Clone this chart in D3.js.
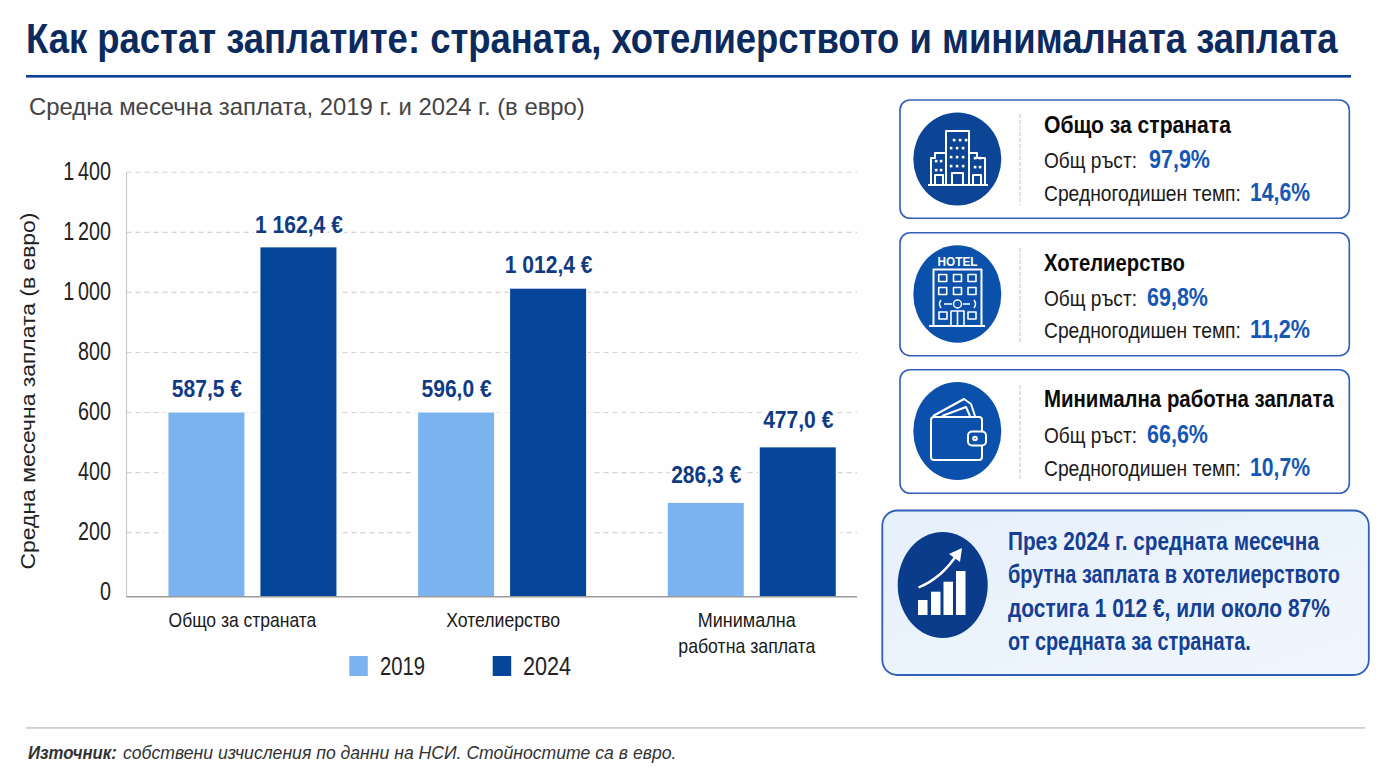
<!DOCTYPE html>
<html lang="bg">
<head>
<meta charset="utf-8">
<script src="https://cdn.jsdelivr.net/npm/d3@7"></script>
<style>
html,body{margin:0;padding:0;background:#fefefe;}
svg{display:block;}
text{font-family:"Liberation Sans",Arial,sans-serif;}
</style>
</head>
<body>
<svg id="c" width="1393" height="784"></svg>
<script>
const titleText = "Как растат заплатите: страната, хотелиерството и минималната заплата";
const subtitleText = "Средна месечна заплата, 2019 г. и 2024 г. (в евро)";
const yAxisTitle = "Средна месечна заплата (в евро)";
const categories = ["Общо за страната", "Хотелиерство", "Минимална работна заплата"];
const categoryLines = [["Общо за страната"], ["Хотелиерство"], ["Минимална", "работна заплата"]];
const years = ["2019", "2024"];
// Bar heights; the printed labels below differ slightly from them.
const barHeights2019 = [600, 600, 299];
const barHeights2024 = [1150, 1012.4, 484];
const printed2019 = [587.5, 596.0, 286.3];
const printed2024 = [1162.4, 1012.4, 477.0];
const yTicks = [0, 200, 400, 600, 800, 1000, 1200, 1400];
const cardTitles = ["Общо за страната", "Хотелиерство", "Минимална работна заплата"];
const totalGrowth = ["97,9%", "69,8%", "66,6%"];
const annualRate = ["14,6%", "11,2%", "10,7%"];
const calloutLines = ["През 2024 г. средната месечна", "брутна заплата в хотелиерството", "достига 1 012 €, или около 87%", "от средната за страната."];
const sourceBold = "Източник:";
const sourceText = "собствени изчисления по данни на НСИ. Стойностите са в евро.";

const colors = {"2019":"#7ab3f0","2024":"#04459a"};
const navy = "#0f3a85", valueBlue = "#1457b5";
const svg = d3.select("#c");
const fmtVal = v => d3.format(".1f")(v).replace(".",",").replace(/^(\d)(\d{3})/,"$1 $2") + " €";

// Draws a text and squeezes it horizontally (the reference face is condensed)
function T(x,y,s,o={}){
  const t = (o.parent||svg).append("text").text(s)
    .attr("font-size",o.size||20).attr("fill",o.fill||"#111");
  if(o.bold) t.attr("font-weight","700");
  if(o.italic) t.attr("font-style","italic");
  if(o.anchor) t.attr("text-anchor",o.anchor);
  const sx = o.w ? o.w/t.node().getComputedTextLength() : (o.sx||1);
  t.attr("transform",`translate(${x},${y})${o.rotate?` rotate(${o.rotate})`:""} scale(${sx},1)`);
  return t;
}

// Header
T(26,53,titleText,{size:42,bold:true,fill:"#0b2a5e",w:1312});
svg.append("rect").attr("x",26).attr("y",75).attr("width",1325).attr("height",2.6).attr("fill","#0d3f9a");
T(29,115,subtitleText,{size:24,fill:"#444",w:556});

// Chart
const x0 = d3.scaleBand().domain(categories).range([127.6,876.6]);
const x1 = d3.scaleBand().domain(years).range([-84,84]).paddingInner(16/92);
const y = d3.scaleLinear().domain([0,1400]).range([592.7,172.3]);
const plotRight = 857, plotLeft = 126.5, baseline = y(0)+4;

const grid = svg.append("g");
grid.selectAll("line").data(yTicks.filter(d=>d>0)).join("line")
  .attr("x1",plotLeft).attr("x2",plotRight).attr("y1",d=>y(d)).attr("y2",d=>y(d))
  .attr("stroke","#d4d4d4").attr("stroke-width",1.1).attr("stroke-dasharray","5 4");
svg.append("line").attr("x1",plotLeft).attr("x2",plotLeft).attr("y1",y(1400)).attr("y2",baseline)
  .attr("stroke","#c9c9c9").attr("stroke-width",1.2);

const tickSx = 0.79;
const yAxis = d3.axisLeft(y).tickValues(yTicks).tickSize(0).tickPadding(0)
  .tickFormat(d=>d>=1000 ? String(d).replace(/^(\d)/,"$1\u2009") : String(d));
const yg = svg.append("g").attr("transform",`translate(${plotLeft},0)`).call(yAxis);
yg.select(".domain").remove();
yg.selectAll("text").attr("font-size",25).attr("fill","#222")
  .attr("x",0).attr("dy","0.27em")
  .attr("transform",`translate(-15.5,0) scale(${tickSx},1)`)
  .style("font-family",'"Liberation Sans",sans-serif');

// white backing behind every group so the grid breaks around bars
const labelGap = [[16,14],[16,16],[20,19]];
const rows = categories.map((c,i)=>({c,i,vals:[
  {k:"2019",h:barHeights2019[i],p:printed2019[i],g:labelGap[i][0]},
  {k:"2024",h:barHeights2024[i],p:printed2024[i],g:labelGap[i][1]}]}));
const gs = svg.append("g").selectAll("g").data(rows).join("g")
  .attr("transform",d=>`translate(${x0(d.c)+x0.bandwidth()/2},0)`);
gs.append("rect").attr("x",x1("2019")-5).attr("width",x1("2024")+x1.bandwidth()-x1("2019")+10)
  .attr("y",d=>y(d3.min(d.vals,v=>v.h))).attr("height",d=>baseline-y(d3.min(d.vals,v=>v.h)))
  .attr("fill","#fefefe");
gs.selectAll("rect.bar").data(d=>d.vals).join("rect").attr("class","bar")
  .attr("x",d=>x1(d.k)).attr("width",x1.bandwidth())
  .attr("y",d=>y(d.h)).attr("height",d=>baseline-y(d.h))
  .attr("fill",d=>colors[d.k]).attr("stroke","#fefefe").attr("stroke-width",3).attr("paint-order","stroke");
gs.selectAll("text.val").data(d=>d.vals).join("text").attr("class","val")
  .attr("transform",d=>`translate(${x1(d.k)+x1.bandwidth()/2+0.5},${y(d.h)-d.g}) scale(0.86,1)`)
  .attr("text-anchor","middle").attr("font-size",24.5).attr("font-weight",700).attr("fill",navy)
  .attr("stroke","#fefefe").attr("stroke-width",6).attr("paint-order","stroke")
  .text(d=>fmtVal(d.p));

svg.append("line").attr("x1",plotLeft).attr("x2",plotRight).attr("y1",baseline).attr("y2",baseline)
  .attr("stroke","#9a9a9a").attr("stroke-width",1.6);

const labelShift = [-10,1,-5];
const catWidths = [[148],[114],[98,137]];
categoryLines.forEach((lines,i)=>{
  const cx = x0(categories[i])+x0.bandwidth()/2+labelShift[i];
  lines.forEach((l,j)=>T(cx,626.7+j*26.3,l,{size:20.5,anchor:"middle",fill:"#1a1a1a",w:catWidths[i][j]}));
});
T(34.5,391,yAxisTitle,{size:21,fill:"#222",anchor:"middle",w:357,rotate:-90});

// Legend
[{k:"2019",x:349.3,tx:380,w:45},{k:"2024",x:492.7,tx:523,w:48}].forEach(l=>{
  svg.append("rect").attr("x",l.x).attr("y",656).attr("width",18.5).attr("height",20).attr("fill",colors[l.k]);
  T(l.tx,675,l.k,{size:26,fill:"#222",w:l.w});
});

// Cards
const cards = [
 {y:100,h:118.3,cy:159,ry:46.5,fill:"#0d4596",ty:133,gy:168,ry2:200.7,gx:1149,rx2:1250,tw:187,dy:[114,205]},
 {y:232.7,h:123,cy:294,ry:48.7,fill:"#0b50aa",ty:271,gy:305.7,ry2:338,gx:1147,rx2:1250,tw:141,dy:[248,342]},
 {y:369.7,h:123.6,cy:431,ry:49,fill:"#0b50aa",ty:407,gy:442.7,ry2:475.7,gx:1147,rx2:1250,tw:290,dy:[385,479]}
];
cards.forEach((c,i)=>{
  svg.append("rect").attr("x",900).attr("y",c.y).attr("width",449.3).attr("height",c.h).attr("rx",10)
    .attr("fill","#fefefe").attr("stroke","#2f5fb8").attr("stroke-width",1.6);
  svg.append("ellipse").attr("cx",957.3).attr("cy",c.cy).attr("rx",44).attr("ry",c.ry).attr("fill",c.fill);
  svg.append("line").attr("x1",1020).attr("x2",1020).attr("y1",c.dy[0]).attr("y2",c.dy[1])
    .attr("stroke","#cfcfcf").attr("stroke-width",1.2).attr("stroke-dasharray","4 2");
  T(1044,c.ty,cardTitles[i],{size:24,bold:true,fill:"#0a0a0a",w:c.tw});
  T(1044,c.gy,"Общ ръст:",{size:22,fill:"#1a1a1a",w:93});
  T(c.gx,c.gy,totalGrowth[i],{size:26,bold:true,fill:valueBlue,w:61});
  T(1044,c.ry2,"Средногодишен темп:",{size:22,fill:"#1a1a1a",w:197});
  T(c.rx2,c.ry2,annualRate[i],{size:26,bold:true,fill:valueBlue,w:60});
});

// Callout
const defs = svg.append("defs");
const g = defs.append("linearGradient").attr("id","cb").attr("x1",0).attr("y1",0).attr("x2",1).attr("y2",1);
g.append("stop").attr("offset","0").attr("stop-color","#e6f0fb");
g.append("stop").attr("offset","1").attr("stop-color","#f0f6fd");
svg.append("rect").attr("x",882.3).attr("y",510.5).attr("width",486.5).attr("height",164.5).attr("rx",15)
  .attr("fill","url(#cb)").attr("stroke","#2f5fb8").attr("stroke-width",1.8);
svg.append("ellipse").attr("cx",942.7).attr("cy",585).attr("rx",45).attr("ry",53).attr("fill","#0b3c8c");
const calloutY=[550,583,617,650], calloutW=[311,332,322,243];
calloutLines.forEach((l,i)=>T(1008,calloutY[i],l,{size:25,bold:true,fill:"#143f94",w:calloutW[i]}));

// Icons
const ic = svg.append("g").attr("fill","none").attr("stroke","#fff").attr("stroke-width",2).attr("stroke-linejoin","round");
// buildings
ic.append("path").attr("d","M928 185H988 M946 185V131H969V185 M946 153H935V158H931V185 M969 153H977V158H985V185 M952 185V173H963V185 M935 185V175H943V185 M973 185V175H981V185");
const dots = svg.append("g").attr("fill","#fff");
[[954,140],[960,140],[966,140],[951,148],[957,148],[963,148],[951,157],[957,157],[963,157],[951,166],[957,166],[963,166],[936,161],[941,161],[936,170],[941,170],[975,158],[980,158],[975,167],[980,167]]
 .forEach(p=>dots.append("rect").attr("x",p[0]-1.2).attr("y",p[1]-1.2).attr("width",2.6).attr("height",2.6));
// hotel
T(957.5,266,"HOTEL",{size:13,bold:true,fill:"#fff",anchor:"middle",w:40});
ic.append("path").attr("d","M929 326H985 M933.5 326V269.5H981.5V326");
[278,291].forEach(yy=>[942.7,957.5,972].forEach(xx=>
  ic.append("rect").attr("x",xx-4).attr("y",yy-3.5).attr("width",8).attr("height",7).attr("stroke-width",1.6)));
ic.append("path").attr("stroke-width",1.5).attr("d","M941 300Q938 304 941 308 M944 304H952 M963 304H970 M974 300Q977 304 974 308");
ic.append("circle").attr("cx",957.5).attr("cy",304).attr("r",4).attr("stroke-width",1.5);
ic.append("rect").attr("x",939).attr("y",312).attr("width",8).attr("height",7).attr("stroke-width",1.6);
ic.append("rect").attr("x",968).attr("y",312).attr("width",8).attr("height",7).attr("stroke-width",1.6);
ic.append("path").attr("stroke-width",1.6).attr("d","M951 326V311H964V326 M957.5 311V326");
// wallet
ic.append("rect").attr("x",931).attr("y",417).attr("width",51).attr("height",43).attr("rx",3);
ic.append("path").attr("d","M933 416L964 399L971 404L975 416 M942 416L966 407L970 416");
ic.append("rect").attr("x",968).attr("y",431.5).attr("width",18).attr("height",14).attr("rx",4).attr("fill","#0b50aa");
ic.append("circle").attr("cx",975).attr("cy",438.5).attr("r",1.8);
// growth
const ig = svg.append("g").attr("fill","#fff");
[[918,600],[931,591.7],[943.5,581.7],[956,571]].forEach(b=>
  ig.append("rect").attr("x",b[0]).attr("y",b[1]).attr("width",9.5).attr("height",615-b[1]));
svg.append("path").attr("d","M918.5 587.5Q942 578 958 553").attr("fill","none").attr("stroke","#fff").attr("stroke-width",2.4);
svg.append("path").attr("d","M962 548L960 562L949 554Z").attr("fill","#fff");

// Footer
svg.append("rect").attr("x",26).attr("y",727).attr("width",1339).attr("height",1.8).attr("fill","#cfcfcf");
T(28,759,sourceBold,{size:17.5,bold:true,italic:true,fill:"#333",w:89});
T(123,759,sourceText,{size:17.5,italic:true,fill:"#333",w:554});
</script>
</body>
</html>
